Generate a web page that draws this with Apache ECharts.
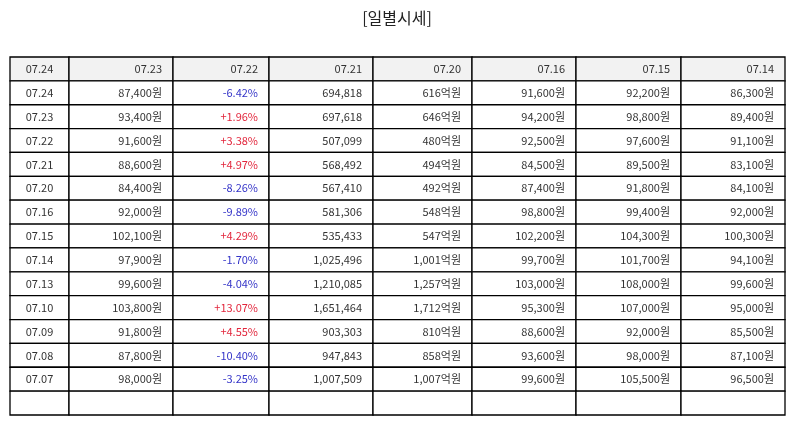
<!DOCTYPE html>
<html>
<head>
<meta charset="utf-8">
<script src="https://cdn.jsdelivr.net/npm/echarts@6/dist/echarts.min.js"></script>
<style>
  html, body { margin: 0; padding: 0; background: #fff; }
  #main { width: 794px; height: 425px; }
</style>
</head>
<body>
<div id="main"></div>
<script>
// 일별시세 표
var headers = ['07.24', '07.23', '07.22', '07.21', '07.20', '07.16', '07.15', '07.14'];
var dates = ['07.24', '07.23', '07.22', '07.21', '07.20', '07.16', '07.15', '07.14', '07.13', '07.10', '07.09', '07.08', '07.07'];
var closes = [87400, 93400, 91600, 88600, 84400, 92000, 102100, 97900, 99600, 103800, 91800, 87800, 98000];
var changes = [-6.42, 1.96, 3.38, 4.97, -8.26, -9.89, 4.29, -1.70, -4.04, 13.07, 4.55, -10.40, -3.25];
var volumes = [694818, 697618, 507099, 568492, 567410, 581306, 535433, 1025496, 1210085, 1651464, 903303, 947843, 1007509];
var amounts = [616, 646, 480, 494, 492, 548, 547, 1001, 1257, 1712, 810, 858, 1007]; // 억원
var opens = [91600, 94200, 92500, 84500, 87400, 98800, 102200, 99700, 103000, 95300, 88600, 93600, 99600];
var highs = [92200, 98800, 97600, 89500, 91800, 99400, 104300, 101700, 108000, 107000, 92000, 98000, 105500];
var lows = [86300, 89400, 91100, 83100, 84100, 92000, 100300, 94100, 99600, 95000, 85500, 87100, 96500];

// 열 너비 (레이아웃)
var colWidths = [59, 104, 96, 104, 99, 104, 105, 104];
var edges = [0];
colWidths.forEach(function (w, i) { edges.push(edges[i] + w); });

function num(v) { return v.toLocaleString('en-US'); }

// 행 만들기: 헤더 + 데이터 + 빈 줄
var rows = [];
rows.push(headers.map(function (h) { return { t: h }; }));
dates.forEach(function (d, i) {
    var c = changes[i];
    rows.push([
        { t: d },
        { t: num(closes[i]) + '원' },
        { t: (c > 0 ? '+' : '') + c.toFixed(2) + '%', color: c > 0 ? '#e2263c' : '#3434c8' },
        { t: num(volumes[i]) },
        { t: num(amounts[i]) + '억원' },
        { t: num(opens[i]) + '원' },
        { t: num(highs[i]) + '원' },
        { t: num(lows[i]) + '원' }
    ]);
});
rows.push(headers.map(function () { return { t: '' }; }));

var rowNames = rows.map(function (r, i) { return 'r' + i; });

var myChart = echarts.init(document.getElementById('main'));

var option = {
    backgroundColor: '#fff',
    animation: false,
    title: {
        text: '[일별시세]',
        left: 'center',
        top: 5,
        textStyle: {
            fontFamily: 'Noto Sans CJK KR',
            fontSize: 16,
            fontWeight: 'normal',
            color: '#222'
        }
    },
    grid: { left: 10, right: 9, top: 57, bottom: 10 },
    xAxis: { type: 'value', min: 0, max: edges[edges.length - 1], show: false },
    yAxis: { type: 'category', data: rowNames, inverse: true, show: false },
    series: [{
        type: 'custom',
        encode: { x: 0, y: 1 },
        data: rows.map(function (r, i) { return [0, i]; }),
        renderItem: function (params, api) {
            var ri = api.value(1);
            var center = api.coord([0, ri]);
            var h = api.size([0, 1])[1];
            var y0 = center[1] - h / 2;
            var children = [];
            rows[ri].forEach(function (cell, j) {
                var x0 = api.coord([edges[j], ri])[0];
                var x1 = api.coord([edges[j + 1], ri])[0];
                children.push({
                    type: 'rect',
                    shape: { x: x0, y: y0, width: x1 - x0, height: h },
                    style: { fill: ri === 0 ? '#f2f2f2' : '#fff', stroke: '#000', lineWidth: 1.3 }
                });
                if (cell.t) {
                    var first = j === 0;
                    children.push({
                        type: 'text',
                        style: {
                            text: cell.t,
                            x: first ? (x0 + x1) / 2 : x1 - 11,
                            y: y0 + h / 2,
                            textAlign: first ? 'center' : 'right',
                            textVerticalAlign: 'middle',
                            fill: cell.color || '#333',
                            font: '11px "Noto Sans CJK KR"'
                        }
                    });
                }
            });
            return { type: 'group', children: children };
        }
    }]
};

myChart.setOption(option);
</script>
</body>
</html>
